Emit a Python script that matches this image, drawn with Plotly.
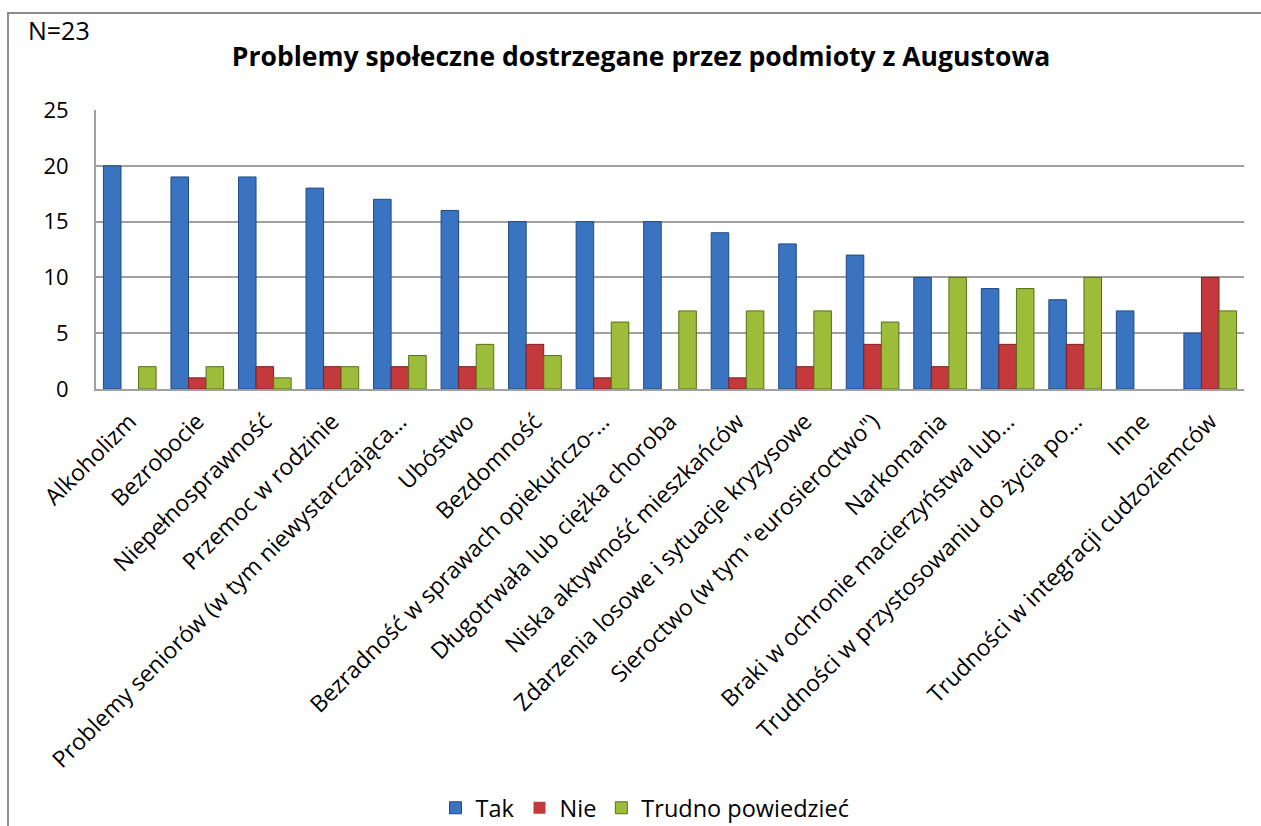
import plotly.graph_objects as go

categories = [
    "Alkoholizm",
    "Bezrobocie",
    "Niepełnosprawność",
    "Przemoc w rodzinie",
    "Problemy seniorów (w tym niewystarczająca…",
    "Ubóstwo",
    "Bezdomność",
    "Bezradność w sprawach opiekuńczo-…",
    "Długotrwała lub ciężka choroba",
    "Niska aktywność mieszkańców",
    "Zdarzenia losowe i sytuacje kryzysowe",
    "Sieroctwo (w tym \"eurosieroctwo\")",
    "Narkomania",
    "Braki w ochronie macierzyństwa lub…",
    "Trudności w przystosowaniu do życia po…",
    "Inne",
    "Trudności w integracji cudzoziemców",
]
tak = [20, 19, 19, 18, 17, 16, 15, 15, 15, 14, 13, 12, 10, 9, 8, 7, 5]
nie = [0, 1, 2, 2, 2, 2, 4, 1, 0, 1, 2, 4, 2, 4, 4, 0, 10]
trudno = [2, 2, 1, 2, 3, 4, 3, 6, 7, 7, 7, 6, 10, 9, 10, 0, 7]

series = [
    ("Tak", tak, "#3A73C0", "#1F4A85"),
    ("Nie", nie, "#C4393B", "#7E1F20"),
    ("Trudno powiedzieć", trudno, "#9CBC3A", "#55701A"),
]

FONT = "Open Sans"

fig = go.Figure()
for name, values, fill, edge in series:
    fig.add_trace(
        go.Bar(
            x=categories,
            y=values,
            name=name,
            marker=dict(
                color=fill,
                # no outline on empty bars, otherwise a stray line sits on the axis
                line=dict(color=edge, width=[1 if v else 0 for v in values]),
            ),
        )
    )

L, R, T, B = 96, 17, 110, 437
W, H = 1261, 826
pw, ph = W - L - R, H - T - B

fig.update_layout(
    width=W,
    height=H,
    margin=dict(l=L, r=R, t=T, b=B, autoexpand=False),
    barmode="group",
    bargap=0.22,
    bargroupgap=0,
    plot_bgcolor="white",
    paper_bgcolor="white",
    font=dict(family=FONT, size=17, color="#000000"),
    title=dict(
        text="<b>Problemy społeczne dostrzegane przez podmioty z Augustowa</b>",
        x=641 / W,
        xanchor="center",
        y=1 - 57 / H,
        yanchor="middle",
        font=dict(family=FONT, size=26.5, color="#000000"),
    ),
    legend=dict(
        orientation="h",
        x=(645 - L) / pw,
        xanchor="center",
        y=-(808 - (H - B)) / ph,
        yanchor="middle",
        font=dict(family=FONT, size=23.5),
        itemwidth=30,
    ),
    annotations=[
        dict(
            text="N=23",
            xref="paper",
            yref="paper",
            x=(26 - L) / pw,
            y=(H - B - 30) / ph,
            xanchor="left",
            yanchor="middle",
            showarrow=False,
            font=dict(family=FONT, size=25),
        )
    ],
    shapes=[
        dict(
            type="rect",
            xref="paper",
            yref="paper",
            x0=(8 - L) / pw,
            x1=1.2,
            y0=-2,
            y1=(H - B - 13) / ph,
            line=dict(color="#8C8C8C", width=2),
            fillcolor="rgba(0,0,0,0)",
            layer="below",
        )
    ],
)

fig.update_xaxes(
    tickangle=-45,
    showline=True,
    linecolor="#A0A0A0",
    linewidth=2,
    ticks="",
    automargin=False,
    ticklabelstandoff=8,
    tickfont=dict(family=FONT, size=23),
)
fig.update_yaxes(
    range=[0, 25],
    dtick=5,
    showgrid=True,
    gridcolor="#A0A0A0",
    gridwidth=1.5,
    showline=True,
    linecolor="#A0A0A0",
    linewidth=2,
    zeroline=False,
    ticks="",
    automargin=False,
    ticklabelstandoff=21,
    tickfont=dict(family=FONT, size=22),
)

fig.write_html(
    "out.html",
    config={"displayModeBar": False},
    post_script="document.body.style.margin='0';document.body.style.overflow='hidden';",
)
